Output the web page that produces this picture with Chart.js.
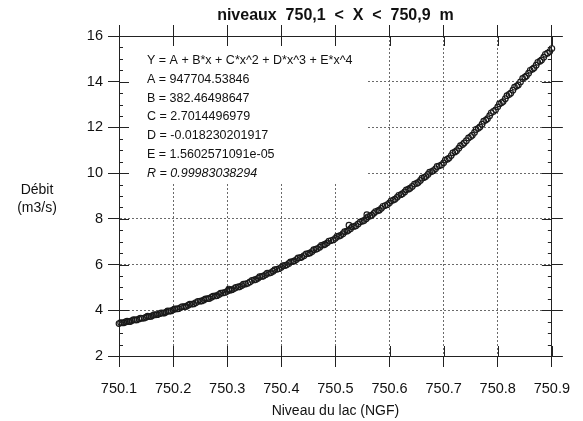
<!DOCTYPE html>
<html>
<head>
<meta charset="utf-8">
<script src="https://cdn.jsdelivr.net/npm/chart.js@4"></script>
<style>
  html, body { margin: 0; padding: 0; background: #fff; }
  canvas { display: block; }
</style>
</head>
<body>
<canvas id="graphique" width="583" height="421"></canvas>
<script>
// niveaux du lac (NGF) et débits (m3/s)
const niveaux = [
  750.100, 750.106, 750.112, 750.118, 750.124, 750.130, 750.137, 750.143, 750.150, 750.156,
  750.162, 750.168, 750.175, 750.181, 750.187, 750.193, 750.200, 750.207, 750.214, 750.221,
  750.228, 750.235, 750.242, 750.250, 750.257, 750.264, 750.271, 750.278, 750.285, 750.292,
  750.300, 750.306, 750.313, 750.320, 750.327, 750.334, 750.342, 750.350, 750.357, 750.364,
  750.371, 750.378, 750.385, 750.392, 750.400, 750.407, 750.414, 750.421, 750.428, 750.435,
  750.442, 750.450, 750.457, 750.464, 750.471, 750.478, 750.485, 750.492, 750.500, 750.507,
  750.514, 750.521, 750.528, 750.535, 750.542, 750.550, 750.557, 750.564, 750.571, 750.578,
  750.585, 750.592, 750.600, 750.607, 750.614, 750.621, 750.628, 750.635, 750.642, 750.650,
  750.657, 750.664, 750.671, 750.678, 750.685, 750.692, 750.700, 750.707, 750.714, 750.721,
  750.728, 750.735, 750.742, 750.750, 750.757, 750.764, 750.771, 750.778, 750.785, 750.792,
  750.800, 750.807, 750.814, 750.821, 750.828, 750.835, 750.842, 750.850, 750.857, 750.864,
  750.871, 750.878, 750.885, 750.892, 750.900,
  750.525, 750.558, 750.303
];
const debits = [
  3.42, 3.45, 3.49, 3.51, 3.55, 3.58, 3.62, 3.65, 3.70, 3.73,
  3.77, 3.80, 3.85, 3.88, 3.92, 3.96, 4.02, 4.06, 4.12, 4.16,
  4.22, 4.27, 4.33, 4.40, 4.45, 4.51, 4.57, 4.63, 4.69, 4.76,
  4.83, 4.88, 4.95, 5.02, 5.08, 5.15, 5.24, 5.33, 5.40, 5.48,
  5.56, 5.63, 5.71, 5.79, 5.88, 5.96, 6.05, 6.13, 6.22, 6.30,
  6.39, 6.48, 6.57, 6.67, 6.76, 6.86, 6.95, 7.05, 7.15, 7.25,
  7.35, 7.46, 7.57, 7.67, 7.78, 7.90, 8.01, 8.12, 8.24, 8.35,
  8.46, 8.58, 8.70, 8.82, 8.94, 9.06, 9.18, 9.30, 9.42, 9.55,
  9.68, 9.81, 9.94, 10.07, 10.19, 10.32, 10.45, 10.61, 10.77, 10.93,
  11.09, 11.25, 11.42, 11.60, 11.78, 11.96, 12.14, 12.32, 12.51, 12.70,
  12.90, 13.08, 13.26, 13.44, 13.63, 13.81, 13.99, 14.20, 14.37, 14.55,
  14.72, 14.90, 15.07, 15.25, 15.45,
  7.72, 8.18, 4.93
];
// seconde série de relevés, intercalés
const niveauxBis = [
  750.103, 750.109, 750.115, 750.121, 750.127, 750.133, 750.140, 750.147, 750.153, 750.159,
  750.165, 750.171, 750.178, 750.184, 750.190, 750.196, 750.203, 750.210, 750.217, 750.224,
  750.231, 750.238, 750.246, 750.253, 750.260, 750.267, 750.274, 750.281, 750.288, 750.296,
  750.303, 750.309, 750.316, 750.323, 750.330, 750.338, 750.346, 750.353, 750.360, 750.367,
  750.374, 750.381, 750.388, 750.396, 750.403, 750.410, 750.417, 750.424, 750.431, 750.438,
  750.446, 750.453, 750.460, 750.467, 750.474, 750.481, 750.488, 750.496, 750.503, 750.510,
  750.517, 750.524, 750.531, 750.538, 750.546, 750.553, 750.560, 750.567, 750.574, 750.581,
  750.588, 750.596, 750.603, 750.610, 750.617, 750.624, 750.631, 750.638, 750.646, 750.653,
  750.660, 750.667, 750.674, 750.681, 750.688, 750.696, 750.703, 750.710, 750.717, 750.724,
  750.731, 750.738, 750.746, 750.753, 750.760, 750.767, 750.774, 750.781, 750.788, 750.796,
  750.803, 750.810, 750.817, 750.824, 750.831, 750.838, 750.846, 750.853, 750.860, 750.867,
  750.874, 750.881, 750.888, 750.896
];
const debitsBis = [
  3.46, 3.45, 3.52, 3.51, 3.59, 3.58, 3.66, 3.66, 3.74, 3.73,
  3.81, 3.81, 3.89, 3.88, 3.97, 3.97, 4.06, 4.07, 4.16, 4.17,
  4.27, 4.28, 4.39, 4.41, 4.50, 4.52, 4.62, 4.64, 4.75, 4.78,
  4.88, 4.90, 5.00, 5.03, 5.14, 5.18, 5.31, 5.35, 5.47, 5.50,
  5.62, 5.65, 5.78, 5.82, 5.95, 5.99, 6.12, 6.16, 6.29, 6.33,
  6.47, 6.51, 6.65, 6.70, 6.84, 6.89, 7.03, 7.08, 7.23, 7.28,
  7.44, 7.50, 7.65, 7.70, 7.87, 7.93, 8.09, 8.16, 8.32, 8.38,
  8.55, 8.62, 8.79, 8.86, 9.03, 9.10, 9.27, 9.34, 9.52, 9.59,
  9.78, 9.85, 10.04, 10.11, 10.29, 10.36, 10.57, 10.66, 10.89, 10.98,
  11.20, 11.32, 11.54, 11.66, 11.91, 12.02, 12.27, 12.38, 12.64, 12.77,
  13.03, 13.13, 13.39, 13.50, 13.76, 13.86, 14.14, 14.25, 14.50, 14.60,
  14.85, 14.95, 15.20, 15.32
];
const graduationsX = [750.1, 750.2, 750.3, 750.4, 750.5, 750.6, 750.7, 750.8, 750.9];
const graduationsY = [2, 4, 6, 8, 10, 12, 14, 16];

const titre = 'niveaux  750,1  <  X  <  750,9  m';
const lignesFormule = [
  'Y = A + B*x + C*x^2 + D*x^3 + E*x^4',
  'A = 947704.53846',
  'B = 382.46498647',
  'C = 2.7014496979',
  'D = -0.018230201917',
  'E = 1.5602571091e-05'
];
const ligneR = 'R = 0.99983038294';

const police = '"Liberation Sans", Arial, Helvetica, sans-serif';
const noir = '#222';

const poserTicks = (liste) => (s) => { s.ticks = liste.map(v => ({ value: v })); };
const points = (xs, ys) => xs.map((x, i) => ({ x, y: ys[i] }));

const decor = {
  id: 'decor',
  beforeDatasetsDraw(chart) {
    const { ctx, chartArea: a } = chart;
    ctx.save();
    // cadre blanc de la formule (masque la grille)
    ctx.fillStyle = '#fff';
    ctx.fillRect(a.left + 1, a.top + 1, 248, 145);
    ctx.fillStyle = '#111';
    ctx.font = '12.5px ' + police;
    ctx.textBaseline = 'alphabetic';
    const x0 = a.left + 28;
    lignesFormule.forEach((t, i) => ctx.fillText(t, x0, 64 + i * 18.8));
    ctx.font = 'italic 12.5px ' + police;
    ctx.fillText(ligneR, x0, 64 + 6 * 18.8);
    ctx.restore();
  },
  afterDatasetsDraw(chart) {
    const { ctx, chartArea: a, scales } = chart;
    ctx.save();
    ctx.strokeStyle = noir;
    ctx.lineWidth = 1;
    ctx.beginPath();
    // graduations intérieures majeures et mineures
    graduationsX.forEach(v => {
      const px = Math.round(scales.x.getPixelForValue(v)) + 0.5;
      ctx.moveTo(px, a.top); ctx.lineTo(px, a.top + 10);
      ctx.moveTo(px, a.bottom); ctx.lineTo(px, a.bottom - 10);
    });
    const yMin = scales.y.min, yMax = scales.y.max;
    for (let v = yMin; v <= yMax + 1e-9; v += 0.5) {
      const py = Math.round(scales.y.getPixelForValue(v)) + 0.5;
      const l = graduationsY.includes(v) ? 10 : 4;
      ctx.moveTo(a.left, py); ctx.lineTo(a.left + l, py);
      ctx.moveTo(a.right, py); ctx.lineTo(a.right - l, py);
    }
    ctx.stroke();
    ctx.restore();
  },
  afterDraw(chart) {
    const { ctx, chartArea: a } = chart;
    ctx.save();
    ctx.fillStyle = '#111';
    ctx.textAlign = 'center';
    ctx.textBaseline = 'middle';
    ctx.font = 'bold 16px ' + police;
    ctx.fillText(titre, (a.left + a.right) / 2, 16);
    ctx.font = '14px ' + police;
    ctx.fillText('Débit', 37, 190);
    ctx.fillText('(m3/s)', 37, 208);
    ctx.restore();
  }
};

const grilleX = {
  color: '#6a6a6a', lineWidth: 1,
  drawTicks: true, tickLength: 11, tickColor: noir, tickWidth: 1
};
const bord = { display: true, color: noir, width: 1, dash: [2, 2] };
const stylePoints = {
  showLine: false,
  pointStyle: 'circle',
  pointRadius: 2.8,
  pointBorderWidth: 1.2,
  pointBorderColor: '#1a1a1a',
  pointBackgroundColor: 'rgba(0,0,0,0)',
  clip: false
};

new Chart(document.getElementById('graphique'), {
  type: 'scatter',
  data: {
    datasets: [
      { data: points(niveaux, debits), ...stylePoints },
      { data: points(niveauxBis, debitsBis), ...stylePoints }
    ]
  },
  options: {
    responsive: false,
    animation: false,
    events: [],
    layout: { padding: 0 },
    plugins: { legend: { display: false }, tooltip: { enabled: false }, title: { display: false } },
    scales: {
      x: {
        type: 'linear', position: 'bottom', min: 750.1, max: 750.9,
        afterBuildTicks: poserTicks(graduationsX),
        afterFit: s => { s.height = 65; },
        grid: grilleX,
        border: bord,
        ticks: {
          color: '#111', padding: 13, maxRotation: 0, autoSkip: false,
          font: { family: police, size: 14.5 },
          callback: v => v.toFixed(1)
        },
        title: {
          display: true, text: 'Niveau du lac (NGF)', color: '#111',
          font: { family: police, size: 14 }, padding: { top: 2, bottom: 1 }
        }
      },
      x2: {
        type: 'linear', position: 'top', min: 750.1, max: 750.9,
        afterBuildTicks: poserTicks(graduationsX),
        afterFit: s => { s.height = 36; },
        grid: { ...grilleX, drawOnChartArea: false },
        border: { display: true, color: noir, width: 1 },
        ticks: { display: false }
      },
      y: {
        type: 'linear', position: 'left', min: 2, max: 16,
        afterBuildTicks: poserTicks(graduationsY),
        afterFit: s => { s.width = 119; },
        grid: grilleX,
        border: bord,
        ticks: {
          color: '#111', padding: 5,
          font: { family: police, size: 14.5 }
        }
      },
      y2: {
        type: 'linear', position: 'right', min: 2, max: 16,
        afterBuildTicks: poserTicks(graduationsY),
        afterFit: s => { s.width = 29; },
        grid: { ...grilleX, drawOnChartArea: false },
        border: { display: true, color: noir, width: 1 },
        ticks: { display: false }
      }
    }
  },
  plugins: [decor]
});
</script>
</body>
</html>
